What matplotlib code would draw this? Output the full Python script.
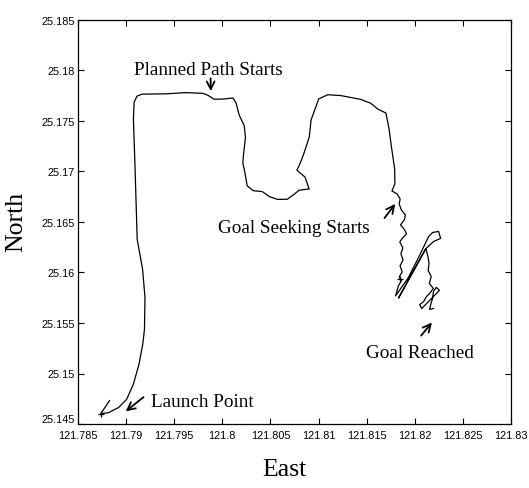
import numpy as np
import matplotlib.pyplot as plt

# GPS track of the run (east / north, degrees)
east = np.array([
    121.78828, 121.78737, 121.78820, 121.78923, 121.79005, 121.79075, 121.79134,
    121.79173, 121.79191, 121.79196, 121.79171, 121.79115, 121.79094, 121.79076,
    121.79083, 121.79113, 121.79165, 121.79414, 121.79621, 121.79798, 121.79850,
    121.79913, 121.80006, 121.80110, 121.80142, 121.80175, 121.80228, 121.80240,
    121.80222, 121.80213, 121.80235, 121.80258, 121.80321, 121.80415, 121.80488,
    121.80572, 121.80675, 121.80747, 121.80798, 121.80902, 121.80859, 121.80775,
    121.80805, 121.80845, 121.80904, 121.80922, 121.80972, 121.81002, 121.81095,
    121.81230, 121.81438, 121.81542, 121.81616, 121.81700, 121.81733, 121.81756,
    121.81791, 121.81793, 121.81763, 121.81816, 121.81848, 121.81838, 121.81860,
    121.81902, 121.81892, 121.81852, 121.81894, 121.81915, 121.81874, 121.81844,
    121.81876, 121.81856, 121.81878, 121.81847, 121.81869, 121.81839, 121.81860,
    121.81830, 121.81800, 121.81932, 121.82033, 121.82144, 121.82185, 121.82247,
    121.82269, 121.82197, 121.82115, 121.81832, 121.82115, 121.82137, 121.82148,
    121.82139, 121.82171, 121.82151, 121.82193, 121.82153, 121.82122, 121.82092,
    121.82051, 121.82072, 121.82113, 121.82174, 121.82225, 121.82256, 121.82224,
    121.82194, 121.82185, 121.82165, 121.82155, 121.82196,
])
north = np.array([
    25.14732, 25.14602, 25.14613, 25.14664, 25.14744, 25.14893, 25.15092,
    25.15290, 25.15440, 25.15756, 25.16033, 25.16330, 25.17003, 25.17518,
    25.17686, 25.17746, 25.17766, 25.17769, 25.17781, 25.17774, 25.17755,
    25.17716, 25.17717, 25.17728, 25.17679, 25.17560, 25.17452, 25.17334,
    25.17184, 25.17085, 25.16987, 25.16859, 25.16810, 25.16801, 25.16752,
    25.16724, 25.16725, 25.16775, 25.16815, 25.16827, 25.16945, 25.17013,
    25.17073, 25.17172, 25.17342, 25.17510, 25.17640, 25.17719, 25.17760,
    25.17752, 25.17714, 25.17676, 25.17618, 25.17579, 25.17421, 25.17253,
    25.17025, 25.16877, 25.16807, 25.16778, 25.16729, 25.16679, 25.16620,
    25.16571, 25.16522, 25.16472, 25.16423, 25.16383, 25.16343, 25.16303,
    25.16244, 25.16184, 25.16126, 25.16066, 25.16006, 25.15957, 25.15917,
    25.15868, 25.15768, 25.15948, 25.16137, 25.16356, 25.16396, 25.16407,
    25.16338, 25.16308, 25.16237, 25.15749, 25.16237, 25.16158, 25.16089,
    25.16020, 25.15961, 25.15891, 25.15842, 25.15792, 25.15762, 25.15712,
    25.15682, 25.15643, 25.15683, 25.15743, 25.15793, 25.15823, 25.15853,
    25.15812, 25.15743, 25.15683, 25.15634, 25.15644,
])

# fixes marked on the track
mark_east = [121.78737, 121.81849]
mark_north = [25.14602, 25.15937]

# annotations: label, text position, arrow tail, arrow head
notes = [
    ("Planned Path Starts", (121.79856, 25.18012), (121.79878, 25.17923), (121.79880, 25.17795)),
    ("Goal Seeking Starts", (121.80742, 25.16449), (121.81685, 25.16539), (121.81797, 25.16679)),
    ("Goal Reached", (121.82058, 25.15207), (121.82066, 25.15375), (121.82178, 25.15505)),
    ("Launch Point", (121.79254, 25.14727), (121.79181, 25.14766), (121.78996, 25.14625)),
]

xticks = [121.785, 121.79, 121.795, 121.8, 121.805, 121.81, 121.815, 121.82, 121.825, 121.83]
xticklabels = ["121.785", "121.79", "121.795", "121.8", "121.805", "121.81",
               "121.815", "121.82", "121.825", "121.83"]
yticks = [25.145, 25.15, 25.155, 25.16, 25.165, 25.17, 25.175, 25.18, 25.185]
yticklabels = ["25.145", "25.15", "25.155", "25.16", "25.165", "25.17",
               "25.175", "25.18", "25.185"]

serif = "Liberation Serif"

fig = plt.figure(figsize=(5.29, 4.89), dpi=100)
ax = fig.add_axes([78 / 529, 1 - 425 / 489, 433 / 529, 404 / 489])

ax.plot(east, north, color="black", lw=0.9)
ax.plot(mark_east, mark_north, "+", color="black", ms=4, mew=0.9)

for label, txt, tail, head in notes:
    ax.annotate("", xy=head, xytext=tail,
                arrowprops=dict(arrowstyle="->", lw=1.3, color="black",
                                mutation_scale=14, shrinkA=0, shrinkB=0))
    ha = "left" if label == "Launch Point" else "center"
    ax.text(txt[0], txt[1], label, ha=ha, va="center", fontsize=13.8,
            family=serif)

ax.set_xlim(121.785, 121.83)
ax.set_ylim(25.145, 25.185)
ax.set_xticks(xticks)
ax.set_xticklabels(xticklabels)
ax.set_yticks(yticks)
ax.set_yticklabels(yticklabels)
ax.tick_params(direction="in", length=4, width=0.8, top=True, right=True,
               labelsize=7.8, pad=2)
ax.tick_params(axis="x", pad=4)
for t in ax.get_xticklabels() + ax.get_yticklabels():
    t.set_family("Liberation Sans")
# keep the corner label clear of the first east label
ax.get_yticklabels()[0].set_va("bottom")
for s in ax.spines.values():
    s.set_linewidth(0.9)

ax.set_xlabel("East", fontsize=18.5, family=serif)
ax.xaxis.set_label_coords(0.476, -0.085)
ax.set_ylabel("North", fontsize=18.5, family=serif)
ax.yaxis.set_label_coords(-0.118, 0.502)

fig.savefig("out.png", dpi=100)
